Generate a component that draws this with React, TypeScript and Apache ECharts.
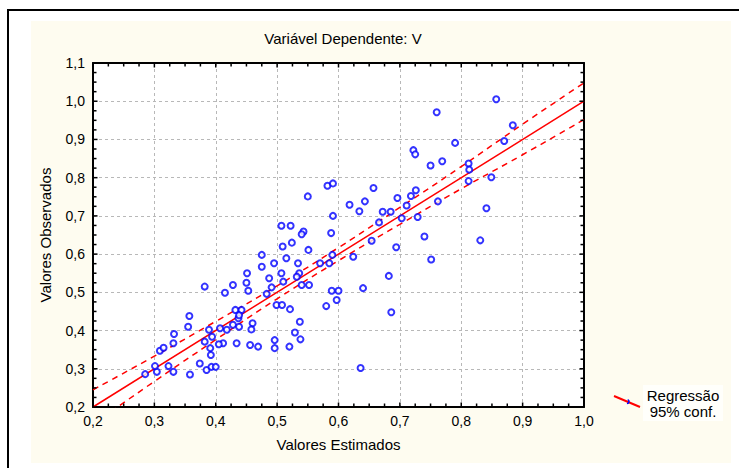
import React, { useEffect, useRef } from "react";
import * as echarts from "echarts";

const titleText = "Variável Dependente: V";
const xName = "Valores Estimados";
const yName = "Valores Observados";
const legendLines = ["Regressão", "95% conf."];

const estimated = [
  0.857, 0.760, 0.884, 0.870, 0.790, 0.722, 0.725, 0.769, 0.750, 0.812,
  0.813, 0.812, 0.849, 0.657, 0.582, 0.591, 0.550, 0.618, 0.634, 0.643,
  0.672, 0.685, 0.696, 0.718, 0.726, 0.711, 0.762, 0.841, 0.666, 0.703,
  0.729, 0.591, 0.507, 0.522, 0.543, 0.588, 0.654, 0.624, 0.694, 0.740,
  0.831, 0.751, 0.682, 0.640, 0.686, 0.636, 0.540, 0.509, 0.524, 0.551,
  0.515, 0.475, 0.475, 0.495, 0.534, 0.536, 0.570, 0.585, 0.590, 0.507,
  0.510, 0.487, 0.491, 0.483, 0.451, 0.450, 0.453, 0.428, 0.415, 0.382,
  0.540, 0.552, 0.589, 0.600, 0.597, 0.580, 0.499, 0.508, 0.521, 0.537,
  0.529, 0.538, 0.496, 0.496, 0.520, 0.432, 0.442, 0.437, 0.428, 0.460,
  0.458, 0.456, 0.469, 0.434, 0.418, 0.407, 0.412, 0.389, 0.382, 0.391,
  0.392, 0.374, 0.385, 0.393, 0.400, 0.357, 0.355, 0.332, 0.331, 0.309,
  0.285, 0.304, 0.301, 0.323, 0.331, 0.358, 0.438, 0.438, 0.532, 0.394,
  0.405, 0.315
];
const observed = [
  1.005, 0.971, 0.937, 0.896, 0.891, 0.872, 0.861, 0.843, 0.832, 0.837,
  0.821, 0.791, 0.801, 0.773, 0.779, 0.785, 0.751, 0.729, 0.712, 0.738,
  0.711, 0.711, 0.747, 0.752, 0.767, 0.727, 0.738, 0.720, 0.683, 0.694,
  0.697, 0.700, 0.674, 0.674, 0.659, 0.655, 0.635, 0.593, 0.618, 0.646,
  0.636, 0.586, 0.543, 0.511, 0.448, 0.302, 0.652, 0.620, 0.630, 0.611,
  0.589, 0.598, 0.567, 0.576, 0.576, 0.550, 0.576, 0.576, 0.598, 0.550,
  0.528, 0.537, 0.513, 0.496, 0.550, 0.525, 0.504, 0.519, 0.499, 0.515,
  0.519, 0.519, 0.504, 0.504, 0.480, 0.464, 0.467, 0.467, 0.456, 0.423,
  0.395, 0.377, 0.375, 0.354, 0.358, 0.454, 0.454, 0.432, 0.415, 0.419,
  0.403, 0.362, 0.358, 0.367, 0.402, 0.406, 0.367, 0.402, 0.371, 0.354,
  0.336, 0.314, 0.297, 0.305, 0.305, 0.438, 0.410, 0.391, 0.367, 0.347,
  0.286, 0.292, 0.307, 0.307, 0.292, 0.285, 0.440, 0.410, 0.541, 0.384,
  0.364, 0.355
];

const regX = [0.2, 1.0];
const regY = [0.2, 1.0];
const bandX = [0.2, 0.3, 0.4, 0.5, 0.6, 0.7, 0.8, 0.9, 1.0];
const bandUpper = [0.245, 0.333, 0.424, 0.517, 0.617, 0.722, 0.829, 0.940, 1.048];
const bandLower = [0.155, 0.267, 0.376, 0.483, 0.583, 0.678, 0.771, 0.860, 0.952];

// axis ranges and tick steps (major 0.1, minor 0.025)
const X_MIN = 0.2;
const X_MAX = 1.0;
const Y_MIN = 0.2;
const Y_MAX = 1.1;
const MAJOR = 0.1;
const MINOR_DIV = 4;

const FONT = "Liberation Sans, Arial, sans-serif";
const fmt = (v: number) => v.toFixed(1).replace(".", ",");

function tickValues(min: number, max: number) {
  const out: { v: number; major: boolean }[] = [];
  const n = Math.round((max - min) / MAJOR) * MINOR_DIV;
  for (let i = 0; i <= n; i++) {
    out.push({ v: min + (i * MAJOR) / MINOR_DIV, major: i % MINOR_DIV === 0 });
  }
  return out;
}

export default function App() {
  const ref = useRef<HTMLDivElement>(null);
  useEffect(() => {
    document.body.style.margin = "0";
    const chart = echarts.init(ref.current!, null, { renderer: "svg" });
    const pts = estimated.map((x, i) => [x, observed[i]]);
    const red = "#ff0000";
    const xt = tickValues(X_MIN, X_MAX);
    const yt = tickValues(Y_MIN, Y_MAX);
    const axisCommon = {
      interval: MAJOR,
      axisLine: { show: true, onZero: false, lineStyle: { color: "#000", width: 2 } },
      axisTick: { show: false },
    };
    const renderTicks = (params: any, api: any) => {
      const children: any[] = [];
      const st = { stroke: "#000", lineWidth: 1.5 };
      xt.forEach((t) => {
        const len = t.major ? 4.5 : 3.5;
        const b = api.coord([t.v, Y_MIN]);
        const top = api.coord([t.v, Y_MAX]);
        children.push({ type: "line", shape: { x1: b[0], y1: b[1], x2: b[0], y2: b[1] - len }, style: st });
        children.push({ type: "line", shape: { x1: top[0], y1: top[1], x2: top[0], y2: top[1] + len }, style: st });
      });
      yt.forEach((t) => {
        const len = t.major ? 4.5 : 3.5;
        const l = api.coord([X_MIN, t.v]);
        const r = api.coord([X_MAX, t.v]);
        children.push({ type: "line", shape: { x1: l[0], y1: l[1], x2: l[0] + len, y2: l[1] }, style: st });
        children.push({ type: "line", shape: { x1: r[0], y1: r[1], x2: r[0] - len, y2: r[1] }, style: st });
      });
      return { type: "group", children };
    };
    chart.setOption({
      animation: false,
      backgroundColor: "#ffffff",
      title: {
        text: titleText,
        left: 338,
        top: 26,
        textAlign: "center",
        textStyle: { fontFamily: FONT, fontSize: 15, fontWeight: "normal", color: "#000" },
      },
      grid: {
        left: 93,
        right: 155,
        top: 63,
        bottom: 61,
        show: false,
      },
      xAxis: [
        {
          ...axisCommon,
          type: "value",
          min: X_MIN,
          max: X_MAX,
          position: "bottom",
          name: xName,
          nameLocation: "middle",
          nameGap: 30,
          nameTextStyle: { fontFamily: FONT, fontSize: 15, color: "#000" },
          axisLabel: { formatter: fmt, fontFamily: FONT, fontSize: 14, color: "#000", margin: 7 },
          splitLine: { show: true, lineStyle: { color: "#b8b8b8", type: [3, 3], width: 1 } },
        },
        {
          ...axisCommon,
          type: "value",
          min: X_MIN,
          max: X_MAX,
          position: "top",
          axisLabel: { show: false },
          splitLine: { show: false },
        },
      ],
      yAxis: [
        {
          ...axisCommon,
          type: "value",
          min: Y_MIN,
          max: Y_MAX,
          position: "left",
          name: yName,
          nameLocation: "middle",
          nameGap: 40,
          nameRotate: 90,
          nameTextStyle: { fontFamily: FONT, fontSize: 15, color: "#000" },
          axisLabel: { formatter: fmt, fontFamily: FONT, fontSize: 14, color: "#000", margin: 8 },
          splitLine: { show: true, lineStyle: { color: "#b8b8b8", type: [3, 3], width: 1 } },
        },
        {
          ...axisCommon,
          type: "value",
          min: Y_MIN,
          max: Y_MAX,
          position: "right",
          axisLabel: { show: false },
          splitLine: { show: false },
        },
      ],
      graphic: [
        {
          type: "rect",
          z: -100,
          shape: { x: 8, y: 10, width: 800, height: 500 },
          style: { fill: "none", stroke: "#000", lineWidth: 2 },
        },
        {
          type: "rect",
          z: -90,
          shape: { x: 31, y: 21, width: 700, height: 442 },
          style: { fill: "#fefcf0" },
        },
        {
          type: "rect",
          z: -85,
          shape: { x: 93, y: 63, width: 491, height: 344 },
          style: { fill: "#ffffff" },
        },
        {
          type: "rect",
          z: -80,
          shape: { x: 643, y: 385, width: 80, height: 36 },
          style: { fill: "#fffffb" },
        },
        {
          type: "line",
          z: 10,
          shape: { x1: 614, y1: 396, x2: 640, y2: 407 },
          style: { stroke: red, lineWidth: 2 },
        },
        {
          type: "arc",
          z: 11,
          shape: { cx: 627, cy: 401.5, r: 2, startAngle: -1.2, endAngle: 1.6 },
          style: { stroke: "#0000ff", lineWidth: 1.5, fill: "none" },
        },
        {
          type: "text",
          z: 10,
          x: 683,
          y: 395,
          style: {
            text: legendLines[0],
            fontFamily: FONT,
            fontSize: 15,
            fill: "#000",
            align: "center",
            verticalAlign: "middle",
          },
        },
        {
          type: "text",
          z: 10,
          x: 683,
          y: 411,
          style: {
            text: legendLines[1],
            fontFamily: FONT,
            fontSize: 15,
            fill: "#000",
            align: "center",
            verticalAlign: "middle",
          },
        },
      ],
      series: [
        {
          type: "line",
          data: bandX.map((x, i) => [x, bandUpper[i]]),
          smooth: true,
          symbol: "none",
          clip: true,
          lineStyle: { color: red, width: 1.5, type: [6, 5] },
          z: 3,
        },
        {
          type: "line",
          data: bandX.map((x, i) => [x, bandLower[i]]),
          smooth: true,
          symbol: "none",
          clip: true,
          lineStyle: { color: red, width: 1.5, type: [6, 5] },
          z: 3,
        },
        {
          type: "line",
          data: regX.map((x, i) => [x, regY[i]]),
          symbol: "none",
          clip: true,
          lineStyle: { color: red, width: 1.5 },
          z: 3,
        },
        {
          type: "scatter",
          data: pts,
          symbol: "emptyCircle",
          symbolSize: 6,
          itemStyle: { color: "#0000ff", borderColor: "#0000ff", borderWidth: 2 },
          z: 4,
        },
        {
          type: "custom",
          silent: true,
          clip: false,
          data: [[X_MIN, Y_MIN]],
          renderItem: renderTicks,
          z: 6,
        },
      ],
    });
    return () => chart.dispose();
  }, []);
  return (
    <div
      ref={ref}
      style={{ position: "absolute", left: 0, top: 0, width: 739, height: 468 }}
    />
  );
}
